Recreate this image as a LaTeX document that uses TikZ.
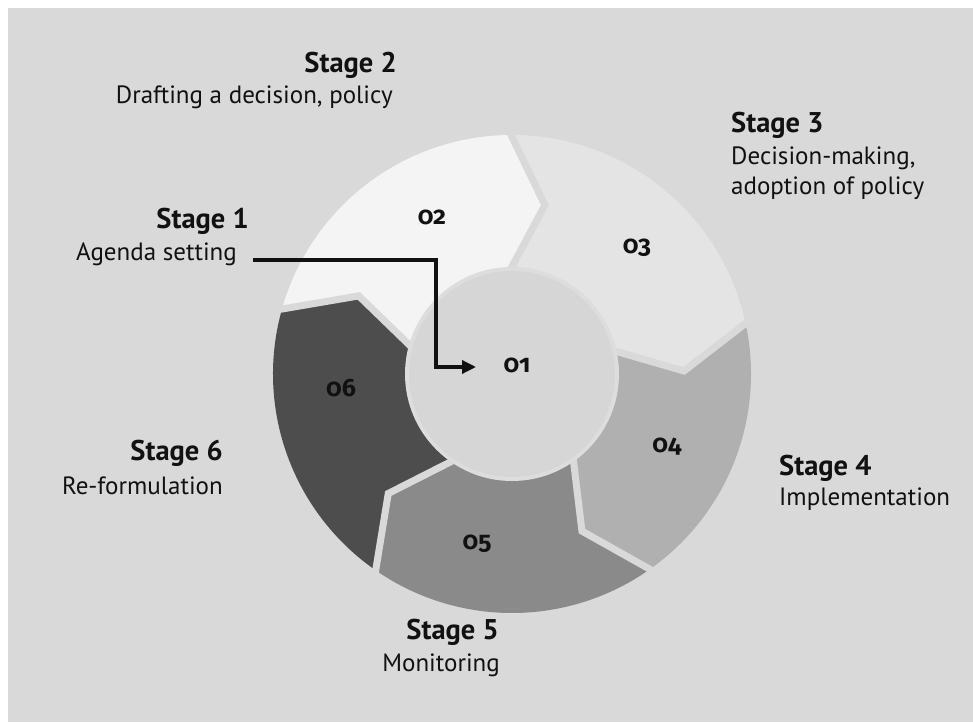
\documentclass[tikz,border=0pt]{standalone}
\usepackage{fontspec}
\setmainfont{PT Sans}
\newfontfamily\numfont[Numbers=OldStyle]{Fira Sans}
\usetikzlibrary{arrows.meta}
\definecolor{bg}{HTML}{D9D9D9}
\definecolor{ink}{HTML}{111111}
\definecolor{hub}{HTML}{D6D6D6}
\definecolor{rim}{HTML}{DDDDDD}
\definecolor{cA}{HTML}{F4F4F4}
\definecolor{cB}{HTML}{E4E4E4}
\definecolor{cC}{HTML}{B0B0B0}
\definecolor{cD}{HTML}{8A8A8A}
\definecolor{cE}{HTML}{4D4D4D}

% ring geometry (centre at 512,348)
\def\Ro{239}
\def\Ri{104}
\def\Rm{172}
\def\tp{12}
% one arrow-shaped ring part: fill colour, counter-clockwise end, clockwise end
\newcommand\ringpart[3]{%
  \fill[#1,shift={(512,348)}] (#2:\Ro pt)
    arc[start angle=#2,end angle=#3,radius=\Ro pt]
    -- ({#3-\tp}:\Rm pt) -- (#3:\Ri pt)
    arc[start angle=#3,end angle=#2,radius=\Ri pt]
    -- ({#2-\tp}:\Rm pt) -- cycle;}
% background-coloured cut between two neighbouring parts
\newcommand\ringcut[1]{%
  \draw[bg,line width=7pt,shift={(512,348)}] (#1:246pt) -- ({#1-\tp}:\Rm pt) -- (#1:\Ri pt);}

\begin{document}
\begin{tikzpicture}[x=1pt,y=1pt,
  title/.style={font=\fontsize{28.5}{32}\selectfont\bfseries, text=ink, inner sep=0pt},
  body/.style={font=\fontsize{25}{29}\selectfont, text=ink, inner sep=0pt},
  num/.style={font=\numfont\bfseries\fontsize{25}{28}\selectfont, text=ink, inner sep=0pt},
  conn/.style={ink, line width=3.3pt, -{Triangle[length=14pt,width=13pt]}}]
\useasboundingbox (0,0) rectangle (973,722);
\fill[white] (0,0) rectangle (973,722);
\fill[bg] (8,0) rectangle (973,714);

% ring parts, clockwise from the top left
\ringpart{cA}{165}{91}
\ringpart{cB}{91}{13}
\ringpart{cC}{13}{-54}
\ringpart{cD}{-54}{-124}
\ringpart{cE}{236}{165}
\ringcut{165}
\ringcut{91}
\ringcut{13}
\ringcut{-54}
\ringcut{-124}

% centre disc
\fill[rim] (512,348) circle[radius=107pt];
\fill[hub] (512,348) circle[radius=103pt];

% numbers
\node[num] (n01) at (517,357) {01};
\node[num] (n02) at (432,505) {02};
\node[num] (n03) at (637,474) {03};
\node[num] (n04) at (667,275) {04};
\node[num] (n05) at (477,178) {05};
\node[num] (n06) at (341,334) {06};

% stage labels
\node[title,anchor=base east] (s1t) at (249,493) {Stage 1};
\node[body,anchor=base east]  (s1d) at (237,461) {Agenda setting};
\node[title,anchor=base east] (s2t) at (397,649) {Stage 2};
\node[body,anchor=base east]  (s2d) at (393,618) {Drafting a decision, policy};
\node[title,anchor=base west] (s3t) at (731,589) {Stage 3};
\node[body,anchor=base west]  (s3d) at (731,557) {Decision-making,};
\node[body,anchor=base west]  (s3e) at (731,527) {adoption of policy};
\node[title,anchor=base west] (s4t) at (779,246) {Stage 4};
\node[body,anchor=base west]  (s4d) at (779,216) {Implementation};
\node[title,anchor=base east] (s5t) at (499,82) {Stage 5};
\node[body,anchor=base east]  (s5d) at (500,51) {Monitoring};
\node[title,anchor=base east] (s6t) at (223,261) {Stage 6};
\node[body,anchor=base east]  (s6d) at (223,227) {Re-formulation};

% pointer from stage 1 to the centre
\coordinate (lstart) at (253,462);
\coordinate (bend) at (436,355);
\coordinate (tip) at (476,355);
\draw[conn] (lstart) -| (bend) -- (tip);
\end{tikzpicture}
\end{document}
